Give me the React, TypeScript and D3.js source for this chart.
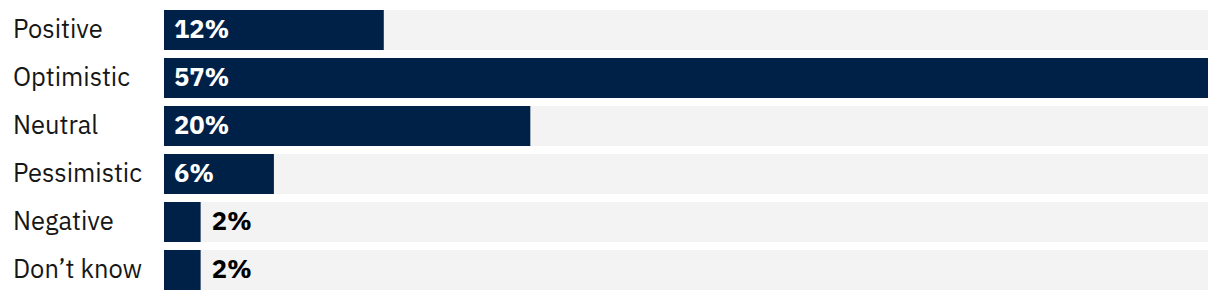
import React from "react";
import * as d3 from "d3";

const categories = ["Positive", "Optimistic", "Neutral", "Pessimistic", "Negative", "Don’t know"];
const values = [12, 57, 20, 6, 2, 2];
const valueLabels = ["12%", "57%", "20%", "6%", "2%", "2%"];

export default function App() {
  const width = 1220;
  const height = 300;
  const left = 164;
  const right = 1208;
  const x = d3.scaleLinear().domain([0, 57]).range([left, right]);
  const y = d3.scaleBand<string>().domain(categories).range([10, 290]).paddingInner(8 / 48).paddingOuter(0);
  const bw = y.bandwidth();
  const font = "'IBM Plex Sans', 'Noto Sans', sans-serif";
  return (
    <svg width={width} height={height} style={{ position: "absolute", left: 0, top: 0, display: "block" }}>
      {categories.map((c, i) => {
        const y0 = y(c)!;
        const xe = x(values[i]);
        const inside = xe - left > 60;
        return (
          <g key={c}>
            <rect x={left} y={y0} width={right - left} height={bw} fill="#f3f3f3" />
            <rect x={left} y={y0} width={xe - left} height={bw} fill="#002147" />
            <text x={13} y={y0 + bw / 2} dy="0.33em" fontFamily={font} fontSize={25.5} fill="#161616">{c}</text>
            <text
              x={inside ? left + 10 : xe + 11}
              y={y0 + bw / 2}
              dy="0.33em"
              fontFamily={font}
              fontSize={25.5}
              fontWeight={700}
              fill={inside ? "#ffffff" : "#000000"}
            >
              {valueLabels[i]}
            </text>
          </g>
        );
      })}
    </svg>
  );
}
